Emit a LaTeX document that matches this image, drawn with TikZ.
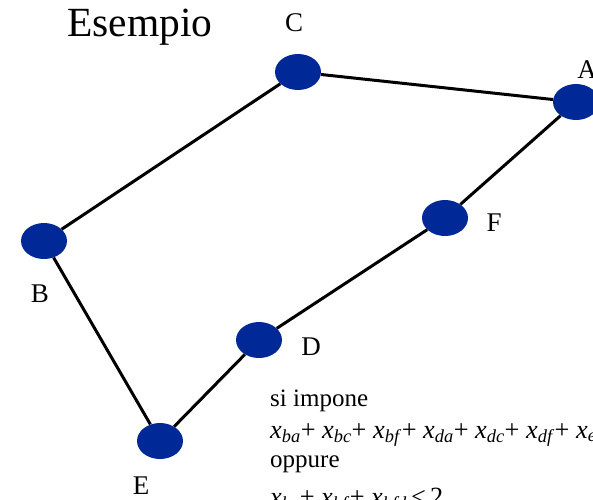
\documentclass[tikz,border=0pt]{standalone}
\usepackage{fontspec}
\setmainfont{Liberation Serif}
\usetikzlibrary{positioning,shapes.geometric}
\definecolor{vertcol}{RGB}{0,40,150}

% variable x with an italic subscript
\newcommand{\xv}[1]{\textit{x}\textsubscript{\textit{#1}}}

\begin{document}
\begin{tikzpicture}[x=1pt,y=-1pt,
    vert/.style={ellipse, fill=vertcol, minimum width=46pt, minimum height=36pt, inner sep=0pt},
    lbl/.style={font=\fontsize{27}{30}\selectfont},
    txt/.style={font=\fontsize{25}{30}\selectfont, anchor=base west, inner sep=0pt},
    mth/.style={txt, font=\fontsize{26.3}{30}\selectfont},
    edge/.style={line width=3pt}]

\useasboundingbox (0,0) rectangle (593,499);
\clip (0,0) rectangle (593,499);

% Title
\node[font=\fontsize{41.5}{44}\selectfont, anchor=base] (title) at (140,36) {Esempio};

% ================================================================
% vertices
% ================================================================
\node[vert] (nC) at (298,72)  {};
\node[vert] (nA) at (576,102) {};
\node[vert] (nB) at (44,241)  {};
\node[vert] (nF) at (445,218) {};
\node[vert] (nD) at (259,340) {};
\node[vert] (nE) at (160,441) {};

% labels
\node[lbl] (lC) at (294,23)  {C};
\node[lbl] (lA) at (587,70)  {A};
\node[lbl] (lB) at (40,294)  {B};
\node[lbl] (lF) at (494,223) {F};
\node[lbl] (lD) at (311,347) {D};
\node[lbl] (lE) at (141,486) {E};

% ================================================================
% cycle
% ================================================================
\draw[edge] (nC) -- (nA);
\draw[edge] (nA) -- (nF);
\draw[edge] (nF) -- (nD);
\draw[edge] (nD) -- (nE);
\draw[edge] (nE) -- (nB);
\draw[edge] (nB) -- (nC);

% ================================================================
% constraint
% ================================================================
\node[txt] (t1) at (270,406) {si impone};
\node[mth] (t2) at (270,438) {\xv{ba}+ \xv{bc}+ \xv{bf}+ \xv{da}+ \xv{dc}+ \xv{df}+ \xv{ea}};
\node[txt] (t3) at (270,467) {oppure};
\node[mth] (t4) at (270,505) {\xv{bc}+ \xv{bf}+ \xv{bfd}\,≤\,2};

\end{tikzpicture}
\end{document}
